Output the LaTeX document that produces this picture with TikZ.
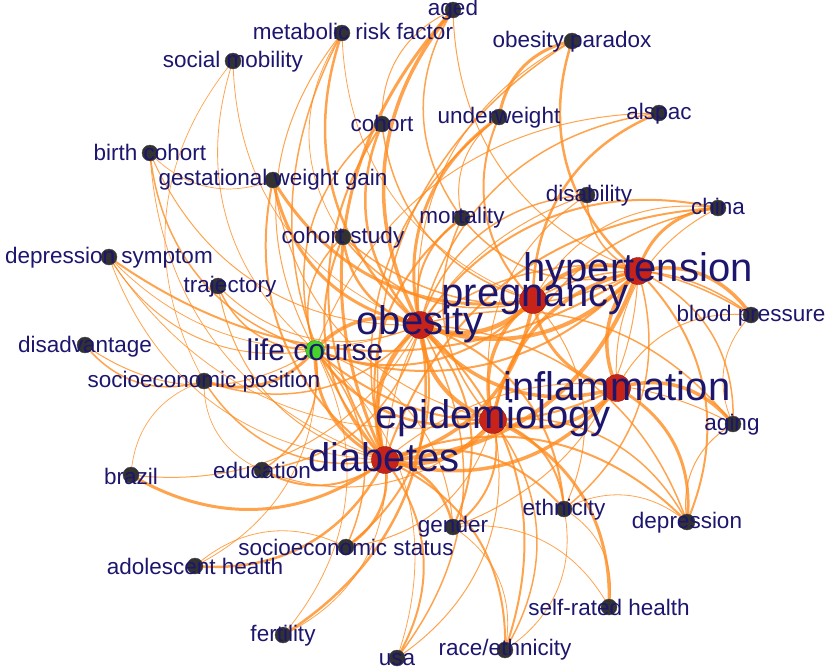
\documentclass[tikz,border=0pt]{standalone}
\usepackage{fontspec}
\setmainfont{Liberation Sans}
\definecolor{edgeor}{RGB}{255,138,28}
\definecolor{navy}{RGB}{28,22,110}
\definecolor{darkdot}{RGB}{50,50,50}
\definecolor{reddot}{RGB}{200,35,25}
\definecolor{greendot}{RGB}{70,210,40}
\tikzset{
  edge/.style={draw=edgeor, draw opacity=0.78, line cap=round},
  sdot/.style={circle, fill=darkdot, draw=black!70, line width=0.4pt, minimum size=16pt, inner sep=0pt},
  rdot/.style={circle, fill=reddot, draw=reddot!70!black, line width=0.4pt, minimum size=27pt, inner sep=0pt},
  gdot/.style={circle, fill=greendot, draw=greendot!70!black, line width=0.4pt, minimum size=19pt, inner sep=0pt},
  slab/.style={text=navy, font=\fontsize{22.5}{24}\selectfont, anchor=base, inner sep=0pt},
  mlab/.style={text=navy, font=\fontsize{30}{32}\selectfont, anchor=base, inner sep=0pt},
  blab/.style={text=navy, font=\fontsize{40}{42}\selectfont, anchor=base, inner sep=0pt}
}
\begin{document}
\begin{tikzpicture}[x=1pt, y=-1pt]
\useasboundingbox (0,0) rectangle (830,670);
% node centres
\foreach \n/\x/\y in {aged/453/10, mrf/342/33, opx/572/41, smob/233/61, alsp/659/113,
  coh/382/124, uw/499/117, bc/150/153, gwg/273/180, dis/587/195, chi/718/208,
  mort/462/218, cs/343/237, ds/109/257, hyp/638/271, traj/218/286, preg/533/300,
  bp/751/315, ob/420/325, disad/85/345, lc/315/350, sep/204/381, inf/617/388,
  epi/493/420, aging/733/424, dia/385/460, braz/131/475, edu/262/470, gen/453/527,
  eth/564/509, dep/687/522, ses/346/547, ah/195/566, srh/609/607, fert/283/635,
  race/505/650, usa/397/658}
  \coordinate (\n) at (\x,\y);
% edges
\foreach \a/\b/\w in {
  ob/preg/4.5, ob/hyp/4, ob/dia/4.5, ob/epi/4, ob/inf/3.5, ob/lc/3.5,
  dia/hyp/4, dia/epi/4, dia/inf/3.5, dia/preg/3.5,
  hyp/preg/4, hyp/inf/3.5, hyp/epi/3.5,
  preg/epi/3.5, preg/inf/3, epi/inf/3.5,
  lc/dia/3, lc/epi/2.5, lc/preg/2, lc/hyp/2, lc/inf/2,
  aged/ob/3.5, aged/dia/3, aged/mort/1.5, aged/coh/1, aged/hyp/1,
  mrf/ob/2.5, mrf/lc/1, mrf/dia/1.5, mrf/cs/0.8, mrf/preg/0.8,
  opx/ob/1, opx/hyp/2.5, opx/uw/3, opx/dia/1.5,
  smob/lc/0.8, smob/ob/0.8, smob/sep/0.7,
  alsp/preg/2.5, alsp/ob/1.5, alsp/lc/1,
  coh/ob/2.5, coh/dia/2, coh/lc/1.5, coh/preg/1.5,
  uw/ob/3, uw/preg/2, uw/dia/1.5, uw/mort/1,
  bc/lc/1.5, bc/ob/1, bc/dia/0.8, bc/gwg/0.7,
  gwg/preg/3, gwg/ob/3, gwg/dia/2, gwg/epi/1,
  dis/hyp/1.5, dis/ob/1.5, dis/dia/1, dis/epi/1,
  chi/hyp/3, chi/dia/2, chi/ob/2, chi/epi/1.5, chi/preg/1, chi/inf/1,
  mort/ob/2, mort/dia/2, mort/hyp/1.5, mort/epi/1.5,
  cs/ob/2.5, cs/dia/2, cs/hyp/1.5, cs/preg/1.5, cs/lc/1.5,
  ds/lc/1, ds/hyp/2, ds/dia/0.8, ds/epi/0.8, ds/ob/0.8,
  traj/lc/1.5, traj/ob/1, traj/dia/1,
  bp/hyp/3.5, bp/ob/1.5, bp/preg/1.5, bp/inf/1, bp/aging/0.8,
  disad/lc/1, disad/sep/1.5,
  sep/lc/3, sep/ob/1.5, sep/dia/1.5, sep/edu/0.7, sep/braz/0.7,
  aging/inf/3.5, aging/hyp/1.5, aging/ob/1.5, aging/dia/1, aging/dep/1,
  braz/dia/3, braz/ob/1,
  edu/lc/1.5, edu/dia/2, edu/ob/1.5, edu/epi/1,
  gen/dia/2.5, gen/ob/2, gen/epi/2, gen/lc/1, gen/hyp/1,
  eth/dia/2, eth/ob/2, eth/epi/2, eth/hyp/1.5, eth/preg/1,
  dep/inf/3, dep/hyp/2, dep/ob/1.5, dep/dia/2, dep/epi/1.5, dep/eth/0.8,
  ses/dia/2.5, ses/ob/2, ses/lc/1.5, ses/epi/1, ses/ah/0.8,
  ah/dia/2.5, ah/lc/0.8,
  srh/epi/3, srh/eth/0.8, srh/gen/0.8,
  fert/ob/2.5, fert/lc/0.8, fert/dia/0.8,
  race/dia/2, race/epi/1.5, race/ob/2, race/gen/0.8, race/eth/0.8,
  usa/dia/2, usa/ob/1.5, usa/lc/0.8, usa/epi/1}
  \draw[edge, line width=\w pt] (\a) to[bend right=34] (\b);
% dots
\foreach \n in {aged, mrf, opx, smob, alsp, coh, uw, bc, gwg, dis, chi, mort, cs, ds,
  traj, bp, disad, sep, aging, braz, edu, gen, eth, dep, ses, ah, srh, fert, race, usa}
  \node[sdot] (\n D) at (\n) {};
\foreach \n in {hyp, preg, ob, inf, epi, dia}
  \node[rdot] (\n D) at (\n) {};
\node[gdot] (lcD) at (lc) {};
% labels
\node[slab] (agedL) at ([yshift=-5pt]aged) {aged};
\node[slab] (mrfL) at ([yshift=-6pt,xshift=11pt]mrf) {metabolic risk factor};
\node[slab] (opxL) at ([yshift=-6pt]opx) {obesity paradox};
\node[slab] (smobL) at ([yshift=-6pt]smob) {social mobility};
\node[slab] (alspL) at ([yshift=-6pt]alsp) {alspac};
\node[slab] (cohL) at ([yshift=-7pt]coh) {cohort};
\node[slab] (uwL) at ([yshift=-6pt]uw) {underweight};
\node[slab] (bcL) at ([yshift=-7pt]bc) {birth cohort};
\node[slab] (gwgL) at ([yshift=-5pt]gwg) {gestational weight gain};
\node[slab] (disL) at ([yshift=-6pt,xshift=2pt]dis) {disability};
\node[slab] (chiL) at ([yshift=-6pt]chi) {china};
\node[slab] (mortL) at ([yshift=-5pt]mort) {mortality};
\node[slab] (csL) at ([yshift=-6pt]cs) {cohort study};
\node[slab] (dsL) at ([yshift=-6pt]ds) {depression symptom};
\node[slab] (trajL) at ([yshift=-6pt,xshift=12pt]traj) {trajectory};
\node[slab] (bpL) at ([yshift=-6pt]bp) {blood pressure};
\node[slab] (disadL) at ([yshift=-7pt]disad) {disadvantage};
\node[slab] (sepL) at ([yshift=-6pt]sep) {socioeconomic position};
\node[slab] (agingL) at ([yshift=-6pt,xshift=-1pt]aging) {aging};
\node[slab] (brazL) at ([yshift=-9pt]braz) {brazil};
\node[slab] (eduL) at ([yshift=-8pt]edu) {education};
\node[slab] (genL) at ([yshift=-5pt]gen) {gender};
\node[slab] (ethL) at ([yshift=-6pt]eth) {ethnicity};
\node[slab] (depL) at ([yshift=-6pt]dep) {depression};
\node[slab] (sesL) at ([yshift=-8pt]ses) {socioeconomic status};
\node[slab] (ahL) at ([yshift=-8pt]ah) {adolescent health};
\node[slab] (srhL) at ([yshift=-8pt]srh) {self-rated health};
\node[slab] (fertL) at ([yshift=-6pt]fert) {fertility};
\node[slab] (raceL) at ([yshift=-5pt]race) {race/ethnicity};
\node[slab] (usaL) at ([yshift=-7pt]usa) {usa};
\node[mlab] (lcL) at ([yshift=-10pt]lc) {life course};
\node[blab] (hypL) at ([yshift=-10pt]hyp) {hypertension};
\node[blab] (pregL) at ([yshift=-6pt,xshift=2pt]preg) {pregnancy};
\node[blab] (obL) at ([yshift=-9pt]ob) {obesity};
\node[blab] (infL) at ([yshift=-12pt]inf) {inflammation};
\node[blab] (epiL) at ([yshift=-8pt]epi) {epidemiology};
\node[blab] (diaL) at ([yshift=-11pt,xshift=-1pt]dia) {diabetes};
\end{tikzpicture}
\end{document}
